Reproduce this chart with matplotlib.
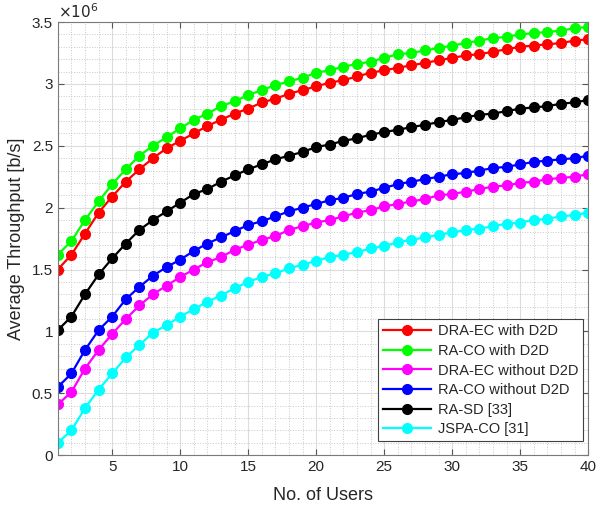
import matplotlib
matplotlib.use("Agg")
import matplotlib.pyplot as plt
from matplotlib.ticker import MultipleLocator, FuncFormatter

# No. of users
users = list(range(1, 41))

# Average throughput, in units of 10^6 b/s
dra_ec_d2d = [1.50, 1.62, 1.79, 1.96, 2.09, 2.21, 2.31, 2.40, 2.48, 2.54,
              2.60, 2.66, 2.71, 2.76, 2.80, 2.85, 2.88, 2.92, 2.95, 2.98,
              3.01, 3.03, 3.06, 3.09, 3.11, 3.13, 3.15, 3.17, 3.19, 3.21,
              3.23, 3.24, 3.26, 3.28, 3.30, 3.31, 3.32, 3.33, 3.35, 3.36]
ra_co_d2d = [1.62, 1.73, 1.90, 2.05, 2.19, 2.31, 2.42, 2.50, 2.57, 2.64,
             2.71, 2.76, 2.82, 2.86, 2.91, 2.95, 2.99, 3.02, 3.05, 3.09,
             3.11, 3.14, 3.16, 3.18, 3.21, 3.24, 3.25, 3.27, 3.29, 3.31,
             3.33, 3.35, 3.37, 3.38, 3.40, 3.41, 3.42, 3.43, 3.45, 3.46]
dra_ec_nod2d = [0.41, 0.51, 0.70, 0.85, 0.98, 1.10, 1.21, 1.30, 1.37, 1.44,
                1.50, 1.56, 1.60, 1.66, 1.70, 1.74, 1.77, 1.82, 1.85, 1.88,
                1.90, 1.93, 1.96, 1.98, 2.01, 2.03, 2.05, 2.07, 2.10, 2.11,
                2.13, 2.15, 2.17, 2.18, 2.20, 2.21, 2.23, 2.24, 2.25, 2.27]
ra_co_nod2d = [0.55, 0.66, 0.85, 1.01, 1.12, 1.26, 1.36, 1.45, 1.52, 1.58,
               1.65, 1.71, 1.76, 1.81, 1.86, 1.89, 1.93, 1.97, 2.00, 2.03,
               2.06, 2.08, 2.11, 2.13, 2.16, 2.19, 2.21, 2.23, 2.25, 2.27,
               2.28, 2.30, 2.32, 2.33, 2.35, 2.37, 2.38, 2.39, 2.40, 2.42]
ra_sd = [1.01, 1.12, 1.30, 1.46, 1.59, 1.71, 1.82, 1.90, 1.97, 2.04,
         2.11, 2.15, 2.21, 2.26, 2.31, 2.35, 2.39, 2.42, 2.45, 2.49,
         2.51, 2.54, 2.56, 2.59, 2.61, 2.63, 2.65, 2.67, 2.69, 2.71,
         2.73, 2.75, 2.76, 2.78, 2.80, 2.81, 2.82, 2.84, 2.85, 2.87]
jspa_co = [0.10, 0.20, 0.38, 0.53, 0.66, 0.79, 0.89, 0.99, 1.05, 1.12,
           1.18, 1.24, 1.29, 1.35, 1.40, 1.44, 1.47, 1.51, 1.54, 1.57,
           1.60, 1.62, 1.64, 1.67, 1.69, 1.72, 1.74, 1.76, 1.78, 1.80,
           1.82, 1.83, 1.85, 1.87, 1.88, 1.90, 1.91, 1.93, 1.94, 1.96]

series = [
    ("DRA-EC with D2D", dra_ec_d2d, "#ff0000"),
    ("RA-CO with D2D", ra_co_d2d, "#00ff00"),
    ("DRA-EC without D2D", dra_ec_nod2d, "#ff00ff"),
    ("RA-CO without D2D", ra_co_nod2d, "#0000ff"),
    ("RA-SD [33]", ra_sd, "#000000"),
    ("JSPA-CO [31]", jspa_co, "#00ffff"),
]

plt.rcParams['font.family'] = ['Liberation Sans', 'DejaVu Sans']
txt = "#262626"

fig = plt.figure(figsize=(5.96, 5.12), dpi=100)
ax = fig.add_axes([0.097, 0.111, 0.89, 0.846])

for name, vals, col in series:
    ax.plot(users, vals, color=col, marker="o", markersize=7,
            linewidth=1.6, label=name)

ax.set_xlim(1, 40)
ax.set_ylim(0, 3.5)
ax.xaxis.set_major_locator(MultipleLocator(5))
ax.xaxis.set_minor_locator(MultipleLocator(1))
ax.yaxis.set_major_locator(MultipleLocator(0.5))
ax.yaxis.set_minor_locator(MultipleLocator(0.1))
ax.yaxis.set_major_formatter(FuncFormatter(lambda v, p: "%g" % v))

ax.grid(which="major", color="#dcdcdc", linestyle="-", linewidth=0.8)
ax.grid(which="minor", color="#c8c8c8", linestyle=":", linewidth=0.7)
ax.set_axisbelow(True)

ax.tick_params(which="both", direction="in", top=True, right=True,
               colors="#555555", labelcolor=txt, labelsize=11)
ax.tick_params(which="minor", length=0)
ax.tick_params(which="major", length=4)
for s in ax.spines.values():
    s.set_color("#7a7a7a")

ax.set_xlabel("No. of Users", fontsize=13, color=txt, labelpad=9)
ax.set_ylabel("Average Throughput [b/s]", fontsize=13, color=txt, labelpad=5)
ax.text(0.0, 1.003, r"$\times10^{6}$", transform=ax.transAxes,
        fontsize=11, color=txt, ha="left", va="bottom")

leg = ax.legend(loc="lower right", bbox_to_anchor=(0.991, 0.032),
                borderaxespad=0, fontsize=10.5, handlelength=3.3,
                fancybox=False, framealpha=1, edgecolor="#404040",
                labelspacing=0.38, handletextpad=0.45, borderpad=0.35)
leg.get_frame().set_linewidth(0.8)
for t in leg.get_texts():
    t.set_color(txt)

fig.savefig("out.png", dpi=100)
